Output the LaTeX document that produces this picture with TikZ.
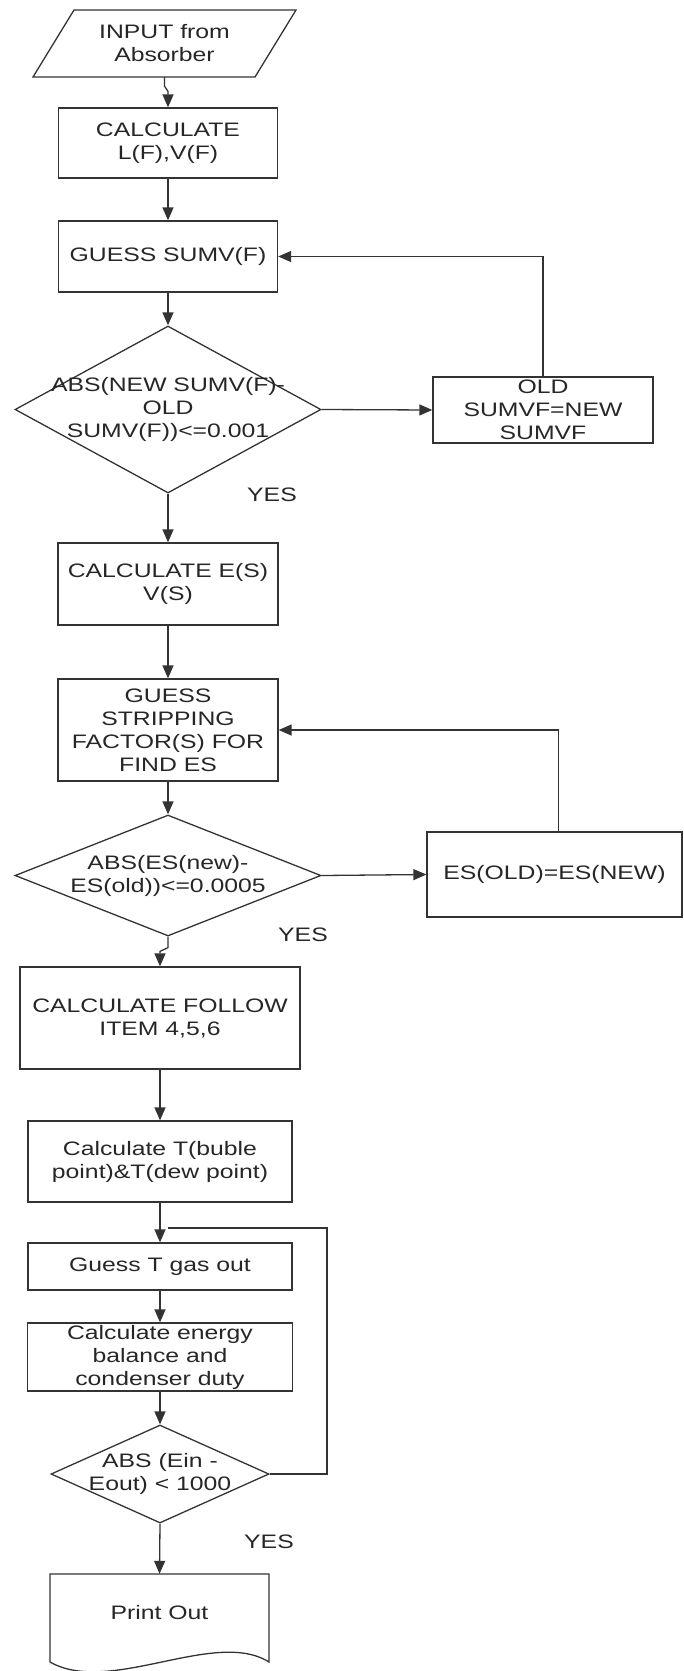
\documentclass[tikz,border=0pt]{standalone}
\usepackage{fontspec}
\setmainfont[FakeStretch=1.27]{Liberation Sans}
\usetikzlibrary{arrows.meta,shapes.geometric}

\begin{document}
\begin{tikzpicture}[x=1pt,y=-1pt,
		wire/.style={line width=1.3pt, draw=black!80},
		arr/.style={wire, -{Triangle[length=13pt,width=11pt]}},
		box/.style={wire, rectangle, inner sep=0pt, align=center},
		decide/.style={wire, diamond, inner sep=0pt},
		txt/.style={align=center, inner sep=0pt},
		every node/.style={font=\fontsize{19.5pt}{23pt}\selectfont, text=black!85}]
			%%%%% START %%%%%
			\useasboundingbox (0,0) rectangle (683,1671);
			
			\draw[wire] (74,10) -- (296,10) -- (255,77) -- (33,77) -- cycle;
			\node[txt, minimum height=67] (in) at (164.5,43.5) {INPUT from\\Absorber};
			
			\node[box, minimum width=219, minimum height=70] (b1) at (168,143) {CALCULATE\\L(F),V(F)};
			\node[box, minimum width=219, minimum height=71] (b2) at (168,256.5) {GUESS SUMV(F)};
			
			\node[decide, minimum width=306, minimum height=167] (d1) at (168,409.5) {};
			\node[txt] (t1) at (d1) {ABS(NEW SUMV(F)-\\OLD\\SUMV(F))<=0.001};
			\node[box, minimum width=220, minimum height=66] (o1) at (543,410) {OLD\\SUMVF=NEW\\SUMVF};
			\node (yes1) at (272,495) {YES};
			
			\node[box, minimum width=220, minimum height=82] (b3) at (168,584) {CALCULATE E(S)\\V(S)};
			\node[box, minimum width=220, minimum height=102] (b4) at (168,730) {GUESS\\STRIPPING\\FACTOR(S) FOR\\FIND ES};
			
			\node[decide, minimum width=306, minimum height=121] (d2) at (168,875.5) {};
			\node[txt] (t2) at (d2) {ABS(ES(new)-\\ES(old))<=0.0005};
			\node[box, minimum width=255, minimum height=85] (o2) at (554.5,874.5) {ES(OLD)=ES(NEW)};
			\node (yes2) at (303,935) {YES};
			
			\node[box, minimum width=280, minimum height=102] (b5) at (160,1018) {CALCULATE FOLLOW\\ITEM 4,5,6};
			\node[box, minimum width=264, minimum height=81] (b6) at (160,1161.5) {Calculate T(buble\\point)\&T(dew point)};
			\node[box, minimum width=264, minimum height=47] (b7) at (160,1266.5) {Guess T gas out};
			\node[box, minimum width=265, minimum height=68] (b8) at (160,1357) {Calculate energy\\balance and\\condenser duty};
			
			\node[decide, minimum width=218, minimum height=98] (d3) at (160,1474) {};
			\node[txt] (t3) at (d3) {ABS (Ein -\\Eout) < 1000};
			\node (yes3) at (269,1542) {YES};
			
			\draw[wire] (50,1574) -- (269,1574) -- (269,1662) .. controls (215,1628) and (110,1696) .. (50,1662) -- cycle;
			\node[txt, minimum width=219, minimum height=78] (out) at (159.5,1613) {Print Out};
			
			\draw[arr] (in.south) -- ++(0,9) -- ([yshift=16pt]b1.north) -- (b1.north);
			\draw[arr] (b1.south) -- (b2.north);
			\draw[arr] (b2.south) -- (d1.north);
			\draw[arr] (d1.east) -- (o1.west);
			\draw[arr] (o1.north) |- (b2.east);
			\draw[arr] (d1.south) -- (b3.north);
			\draw[arr] (b3.south) -- (b4.north);
			\draw[arr] (b4.south) -- (d2.north);
			\draw[arr] (d2.east) -- (o2.west);
			\draw[arr] ([xshift=4pt]o2.north) |- (b4.east);
			\draw[arr] (d2.south) -- ++(0,11) -- ([yshift=15pt]b5.north) -- (b5.north);
			\draw[arr] (b5.south) -- (b6.north);
			\draw[arr] (b6.south) -- (b7.north);
			\draw[arr] (b7.south) -- (b8.north);
			\draw[arr] (b8.south) -- (d3.north);
			
			\coordinate (r3) at (327,1228);
			\coordinate (j3) at (168,1228);
			\draw[wire] (d3.east) -| (r3) -- (j3);
			\draw[arr] (d3.south) -- (out.north);
			
			%%%%% END %%%%%
		\end{tikzpicture}
\end{document}
